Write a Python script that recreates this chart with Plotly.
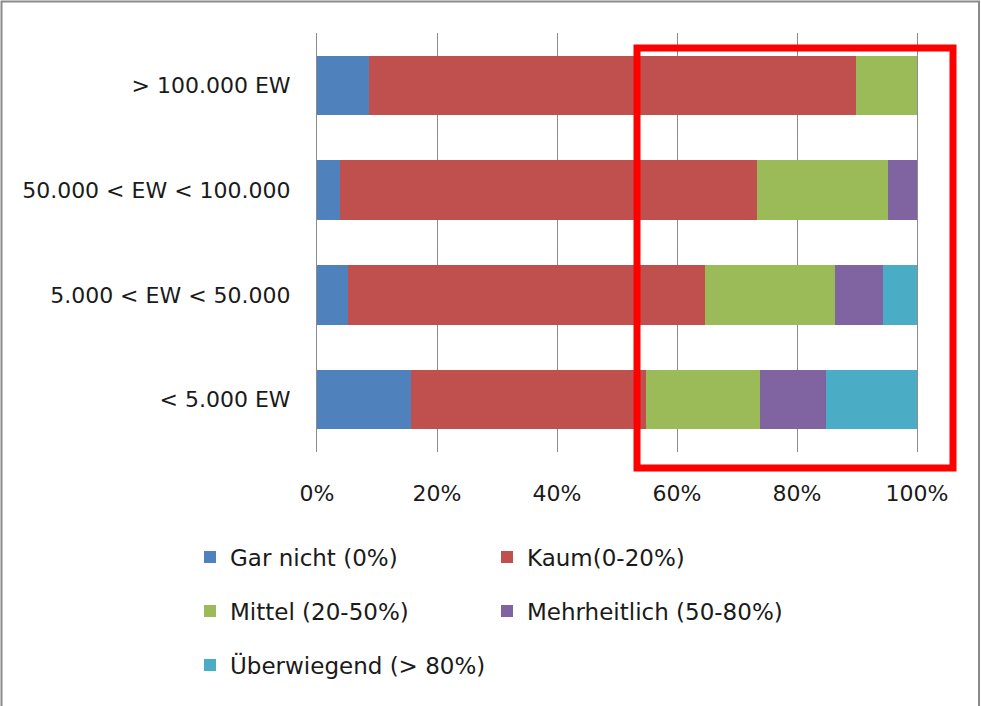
import plotly.graph_objects as go

categories = ["< 5.000 EW", "5.000 < EW < 50.000", "50.000 < EW < 100.000", "> 100.000 EW"]
series_names = ["Gar nicht (0%)", "Kaum(0-20%)", "Mittel (20-50%)", "Mehrheitlich (50-80%)", "Überwiegend (> 80%)"]
gar_nicht = [15.6, 5.2, 3.8, 8.7]
kaum = [39.2, 59.5, 69.6, 81.2]
mittel = [19.1, 21.6, 21.8, 10.1]
mehrheitlich = [10.9, 8.1, 4.8, 0.0]
ueberwiegend = [15.2, 5.6, 0.0, 0.0]
tick_vals = [0, 20, 40, 60, 80, 100]
tick_labels = ["0%", "20%", "40%", "60%", "80%", "100%"]

colors = ["#4F81BD", "#C0504D", "#9BBB59", "#8064A2", "#4BACC6"]
legend_ids = ["legend", "legend", "legend2", "legend2", "legend3"]
series_values = [gar_nicht, kaum, mittel, mehrheitlich, ueberwiegend]

FONT = "'DejaVu Sans', Verdana, sans-serif"
TXT = "#1A1A1A"
FS = 22
FS_LEG = 23
W, H = 981, 706
ML, MR, MT, MB = 317, 64, 33, 254

fig = go.Figure()
for name, vals, col, lg in zip(series_names, series_values, colors, legend_ids):
    fig.add_trace(go.Bar(
        y=categories, x=vals, name=name, orientation="h",
        marker=dict(color=col, line=dict(width=0)),
        legend=lg, hoverinfo="skip",
    ))

pw = W - ML - MR
ph = H - MT - MB

def px_x(p):
    return (p - ML) / pw

def px_y(p):
    return (H - MB - p) / ph

leg_common = dict(
    orientation="h", xref="container", yref="container",
    xanchor="left", yanchor="middle",
    font=dict(family=FONT, size=FS_LEG, color=TXT),
    entrywidth=252, entrywidthmode="pixels",
    bgcolor="rgba(0,0,0,0)", borderwidth=0, traceorder="normal",
)

fig.update_layout(
    width=W, height=H,
    margin=dict(l=ML, r=MR, t=MT, b=MB),
    paper_bgcolor="white", plot_bgcolor="white",
    barmode="stack", bargap=0.43,
    font=dict(family=FONT, size=FS, color=TXT),
    xaxis=dict(
        range=[0, 100], tickvals=tick_vals, ticktext=tick_labels,
        showgrid=True, gridcolor="#8C8C8C", gridwidth=1,
        zeroline=False, showline=False, ticks="",
        ticklabelstandoff=26,
        tickfont=dict(family=FONT, size=FS, color=TXT),
        fixedrange=True,
    ),
    yaxis=dict(
        categoryorder="array", categoryarray=categories,
        showgrid=False, zeroline=False,
        showline=True, linecolor="#8C8C8C", linewidth=1, mirror=True,
        ticks="",
        ticklabelstandoff=21,
        tickfont=dict(family=FONT, size=FS, color=TXT),
        fixedrange=True,
    ),
    legend=dict(leg_common, x=190 / W, y=1 - 557 / H),
    legend2=dict(leg_common, x=190 / W, y=1 - 611 / H),
    legend3=dict(leg_common, x=190 / W, y=1 - 665 / H),
    showlegend=True,
)

# outer frame of the chart (left, top, right edges)
fig.add_shape(type="rect", xref="paper", yref="paper",
              x0=px_x(1.5), x1=px_x(979), y0=px_y(720), y1=px_y(1.5),
              line=dict(color="#8A8A8A", width=2), fillcolor="rgba(0,0,0,0)", layer="below")

# red highlight rectangle
fig.add_shape(type="rect", xref="paper", yref="paper",
              x0=px_x(637), x1=px_x(953), y0=px_y(468), y1=px_y(48),
              line=dict(color="#FF0000", width=7), fillcolor="rgba(0,0,0,0)", layer="above")

fig.write_html("out.html", config={"displayModeBar": False},
               post_script="document.body.style.margin='0';document.body.style.overflow='hidden';")
